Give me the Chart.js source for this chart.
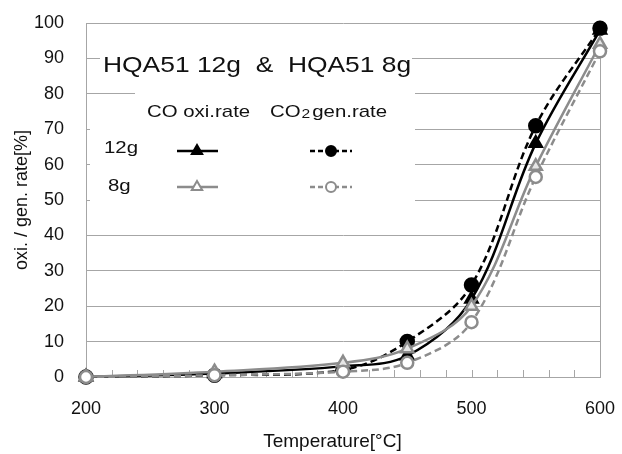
<!DOCTYPE html>
<html><head><meta charset="utf-8">
<script src="https://cdn.jsdelivr.net/npm/chart.js@4"></script>
<style>html,body{margin:0;padding:0;background:#fff}#wrap{width:622px;height:454px}</style>
</head><body><div id="wrap"><canvas id="c" width="622" height="454"></canvas></div>
<script>
const temps = [200, 300, 400, 450, 500, 550, 600];
const co12 = [0, 1, 3, 6, 22, 66, 98];
const co2_12 = [0, 0.5, 2, 10, 26, 71, 98.5];
const co8 = [0, 1.5, 4, 8, 20, 59.5, 94];
const co2_8 = [0, 0.5, 1.5, 4, 15.5, 56.5, 92];
const yTicks = [0, 10, 20, 30, 40, 50, 60, 70, 80, 90, 100];
const xTicks = [200, 300, 400, 500, 600];
const titleText = 'HQA51 12g  &  HQA51 8g';
const colHeads = ['CO oxi.rate', 'CO', '2', 'gen.rate'];
const rowHeads = ['12g', '8g'];

const FONT = '"Liberation Sans", Arial, sans-serif';
const BLACK = '#000000', GRAY = '#8c8c8c';
const pts = arr => temps.map((t, i) => ({x: t, y: arr[i]}));

function sText(ctx, txt, x, y, size, sx) {
  ctx.save();
  ctx.font = size + 'px ' + FONT;
  ctx.translate(x, y);
  ctx.scale(sx, 1);
  ctx.fillText(txt, 0, 0);
  const w = ctx.measureText(txt).width * sx;
  ctx.restore();
  return w;
}

const overlay = {
  id: 'overlay',
  beforeDatasetsDraw(chart) {
    const ctx = chart.ctx;
    const {left, right, top, bottom} = chart.chartArea;
    const xs = chart.scales.x;
    ctx.save();
    ctx.strokeStyle = '#a6a6a6';
    ctx.lineWidth = 1;
    ctx.beginPath();
    ctx.moveTo(Math.round(right) + 0.5, top);
    ctx.lineTo(Math.round(right) + 0.5, bottom);
    for (let v = 200; v <= 600; v += 20) {
      const px = Math.round(xs.getPixelForValue(v)) + 0.5;
      ctx.moveTo(px, bottom);
      ctx.lineTo(px, bottom - 7);
    }
    ctx.stroke();
    // white boxes
    ctx.fillStyle = '#fff';
    ctx.fillRect(100, 43, 312, 44);
    ctx.fillRect(135, 76, 280, 138);
    ctx.fillRect(90, 108, 50, 106);
    // title
    ctx.fillStyle = '#111';
    ctx.textBaseline = 'middle';
    ctx.textAlign = 'left';
    sText(ctx, titleText, 103, 66, 22, 1.2);
    // column heads
    sText(ctx, colHeads[0], 147, 112, 17, 1.2);
    let w = sText(ctx, colHeads[1], 270, 112, 17, 1.2);
    let w2 = sText(ctx, colHeads[2], 270 + w + 1, 114, 13, 1.2);
    sText(ctx, colHeads[3], 270 + w + w2 + 3, 112, 17, 1.2);
    sText(ctx, rowHeads[0], 104, 148, 17, 1.2);
    sText(ctx, rowHeads[1], 108, 186, 17, 1.2);
    // legend samples
    const rows = [
      {y: 151, c: BLACK, fill: BLACK},
      {y: 187, c: GRAY, fill: '#ffffff'}
    ];
    rows.forEach(r => {
      ctx.strokeStyle = r.c; ctx.lineWidth = 2.5;
      ctx.setLineDash([]);
      ctx.beginPath(); ctx.moveTo(177, r.y); ctx.lineTo(218, r.y); ctx.stroke();
      const cx = 197, cy = r.y, rad = 6;
      ctx.beginPath();
      ctx.moveTo(cx, cy - rad);
      ctx.lineTo(cx + rad * 0.866, cy + rad * 0.5);
      ctx.lineTo(cx - rad * 0.866, cy + rad * 0.5);
      ctx.closePath();
      ctx.fillStyle = r.fill; ctx.fill();
      ctx.lineWidth = 2; ctx.stroke();
      ctx.lineWidth = 2.5;
      ctx.setLineDash([5, 3]);
      ctx.beginPath(); ctx.moveTo(310, r.y); ctx.lineTo(352, r.y); ctx.stroke();
      ctx.setLineDash([]);
      ctx.beginPath(); ctx.arc(331, r.y, 5, 0, Math.PI * 2);
      ctx.fillStyle = r.fill; ctx.fill();
      ctx.lineWidth = 2; ctx.stroke();
    });
    ctx.restore();
  }
};

const common = {fill: false, clip: false, tension: 0.35, borderWidth: 2.5, pointBorderWidth: 2.5};
new Chart(document.getElementById('c'), {
  type: 'line',
  data: {
    datasets: [
      Object.assign({label: '8g CO2', data: pts(co2_8), borderColor: GRAY, borderDash: [7, 4],
        pointStyle: 'circle', pointRadius: 6, pointBackgroundColor: '#fff', pointBorderColor: GRAY}, common),
      Object.assign({label: '8g CO', data: pts(co8), borderColor: GRAY,
        pointStyle: 'triangle', pointRadius: 7, pointBackgroundColor: '#e6e6e6', pointBorderColor: GRAY}, common),
      Object.assign({label: '12g CO2', data: pts(co2_12), borderColor: BLACK, borderDash: [7, 4],
        pointStyle: 'circle', pointRadius: 6.5, pointBackgroundColor: BLACK, pointBorderColor: BLACK}, common),
      Object.assign({label: '12g CO', data: pts(co12), borderColor: BLACK,
        pointStyle: 'triangle', pointRadius: 7, pointBackgroundColor: BLACK, pointBorderColor: BLACK}, common)
    ]
  },
  options: {
    responsive: false,
    animation: false,
    layout: {padding: {top: 23, right: 22, left: 0, bottom: 0}},
    plugins: {legend: {display: false}, tooltip: {enabled: false}},
    scales: {
      x: {
        type: 'linear', min: 200, max: 600,
        afterBuildTicks: s => { s.ticks = xTicks.map(v => ({value: v})); },
        afterFit: s => { s.height = 77; s.paddingLeft = 0; s.paddingRight = 0; },
        grid: {display: false, drawTicks: false},
        border: {display: true, color: '#a6a6a6', width: 1},
        ticks: {color: '#111', font: {family: FONT, size: 18}, padding: 21},
        title: {display: true, text: 'Temperature[°C]    ', color: '#111',
          font: {family: FONT, size: 19}, padding: {top: 0, bottom: 1}}
      },
      y: {
        min: 0, max: 100,
        afterBuildTicks: s => { s.ticks = yTicks.map(v => ({value: v})); },
        afterFit: s => { s.width = 86; s.paddingTop = 0; s.paddingBottom = 0; },
        grid: {color: '#a6a6a6', drawTicks: false, lineWidth: 1},
        border: {display: true, color: '#a6a6a6', width: 1},
        ticks: {color: '#111', font: {family: FONT, size: 18}, padding: 22},
        title: {display: true, text: 'oxi. / gen. rate[%]', color: '#111',
          font: {family: FONT, size: 18}, padding: {top: 11, bottom: 0}}
      }
    }
  },
  plugins: [overlay]
});
</script></body></html>
